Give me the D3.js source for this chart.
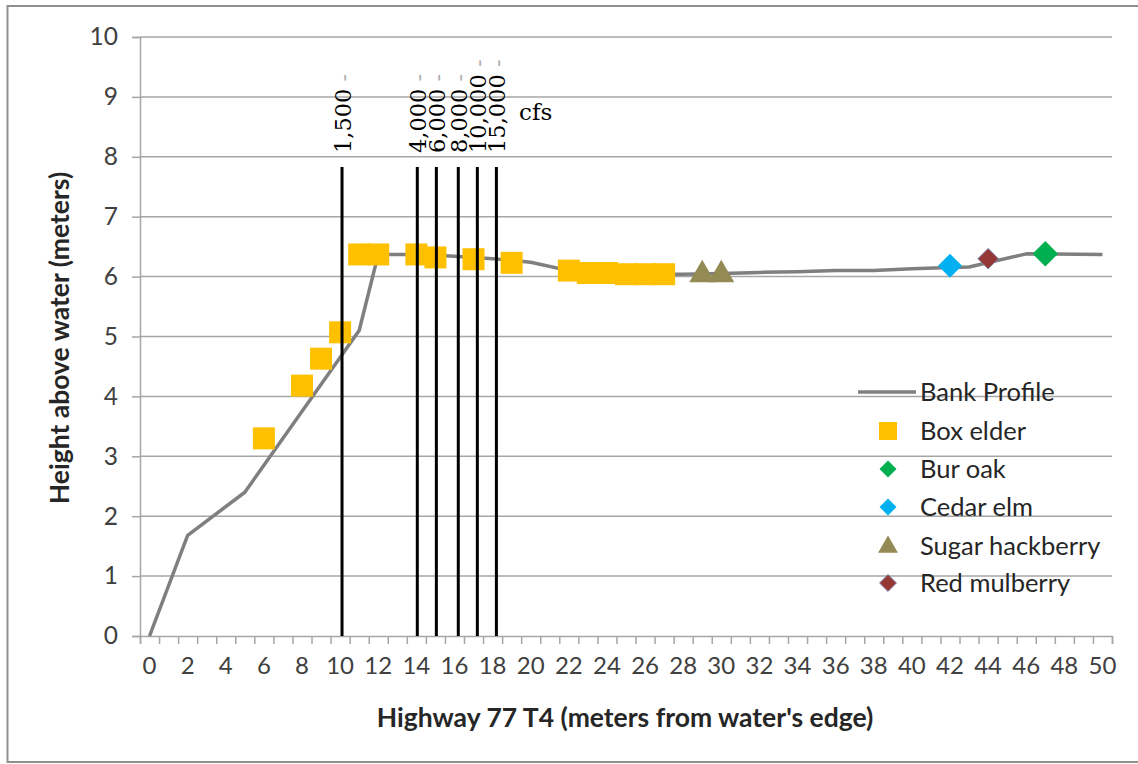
<!DOCTYPE html>
<html lang="en">
<head>
<meta charset="utf-8">
<title>Highway 77 T4 bank profile</title>
<script src="https://cdnjs.cloudflare.com/ajax/libs/d3/7.8.5/d3.min.js"></script>
<style>
  body { margin: 0; background: #fff; }
  svg { display: block; font-family: Lato, "Open Sans", sans-serif; }
</style>
</head>
<body>
<svg width="1138" height="764"></svg>
<script>
// bank profile (meters from water's edge, height above water)
var profileX = [0, 2, 5, 11, 12, 14, 16, 18, 20, 22, 24, 26, 28, 30, 32, 34, 36, 38, 40, 42, 43, 46, 50];
var profileY = [0, 1.68, 2.4, 5.1, 6.37, 6.37, 6.34, 6.3, 6.24, 6.1, 6.06, 6.04, 6.04, 6.05, 6.07, 6.08, 6.1, 6.1, 6.13, 6.15, 6.16, 6.38, 6.37];

var boxElderX = [6, 8, 9, 10, 11, 12, 14, 15, 17, 19, 22, 23, 24, 25, 26, 27];
var boxElderY = [3.3, 4.18, 4.63, 5.07, 6.37, 6.37, 6.37, 6.32, 6.29, 6.23, 6.1, 6.06, 6.06, 6.04, 6.04, 6.04];
var burOakX = [47], burOakY = [6.38];
var cedarElmX = [42], cedarElmY = [6.18];
var hackberryX = [29, 30], hackberryY = [6.03, 6.03];
var mulberryX = [44], mulberryY = [6.3];

// flow stages
var flowX = [10.1, 14.05, 15.05, 16.2, 17.2, 18.2];
var flowLabels = ["1,500", "4,000", "6,000", "8,000", "10,000", "15,000"];
var flowTop = 7.83;

var yTicks = [0, 1, 2, 3, 4, 5, 6, 7, 8, 9, 10];
var xLabels = d3.range(0, 51, 2);

var svg = d3.select("svg");

// outer frame
svg.append("path")
  .attr("d", "M1140,6H7.5V762H1140")
  .attr("fill", "none").attr("stroke", "#8f8f8f").attr("stroke-width", 2);

var x = d3.scaleLinear().domain([-0.5, 50.5]).range([140, 1112]);
var y = d3.scaleLinear().domain([0, 10]).range([636, 37]);

// grid
svg.append("g").selectAll("line")
  .data(yTicks.slice(1))
  .enter().append("line")
    .attr("x1", x(-0.5)).attr("x2", x(50.5))
    .attr("y1", d => y(d)).attr("y2", d => y(d))
    .attr("stroke", "#a6a6a6").attr("stroke-width", 1.5);

// y axis
var yAxis = svg.append("g")
  .attr("transform", "translate(" + x(-0.5) + ",0)")
  .call(d3.axisLeft(y).tickValues(yTicks).tickSize(8).tickPadding(14).tickFormat(d3.format("d")));
yAxis.select(".domain").attr("stroke", "#a6a6a6").attr("stroke-width", 1.5);
yAxis.selectAll(".tick line").attr("stroke", "#a6a6a6").attr("stroke-width", 1.5);
yAxis.selectAll("text").attr("font-size", 24.5).attr("fill", "#404040").attr("font-family", "Lato");

// x axis: one tick between each metre, labels every 2 m
var xAxis = svg.append("g")
  .attr("transform", "translate(0," + y(0) + ")")
  .call(d3.axisBottom(x).tickValues(d3.range(-0.5, 50.6, 1)).tickSize(8).tickFormat(""));
xAxis.select(".domain").attr("stroke", "#a6a6a6").attr("stroke-width", 1.5);
xAxis.selectAll(".tick line").attr("stroke", "#a6a6a6").attr("stroke-width", 1.5);
svg.append("g").selectAll("text")
  .data(xLabels)
  .enter().append("text")
    .attr("x", d => x(d)).attr("y", 674)
    .attr("text-anchor", "middle")
    .attr("font-size", 24).attr("fill", "#404040")
    .text(d => d);

// axis titles
svg.append("text")
  .attr("x", 625).attr("y", 727)
  .attr("text-anchor", "middle")
  .attr("font-size", 26.5).attr("font-weight", "bold").attr("fill", "#262626")
  .text("Highway 77 T4 (meters from water's edge)");
svg.append("text")
  .attr("transform", "translate(69,338) rotate(-90)")
  .attr("text-anchor", "middle")
  .attr("font-size", 26.5).attr("font-weight", "bold").attr("fill", "#262626")
  .text("Height above water (meters)");

// bank profile line
var line = d3.line().x(d => x(d[0])).y(d => y(d[1]));
svg.append("path")
  .datum(d3.zip(profileX, profileY))
  .attr("d", line)
  .attr("fill", "none").attr("stroke", "#7f7f7f").attr("stroke-width", 3.5)
  .attr("stroke-linejoin", "round");

// tree markers
var diamond = (s) => d3.symbol(d3.symbolSquare, s * s)();
function markers(xs, ys, pathStr, fill, stroke, rot) {
  svg.append("g").selectAll("path")
    .data(d3.zip(xs, ys))
    .enter().append("path")
      .attr("d", pathStr)
      .attr("transform", d => "translate(" + x(d[0]) + "," + y(d[1]) + ") rotate(" + rot + ")")
      .attr("fill", fill)
      .attr("stroke", stroke || "none").attr("stroke-width", 0.8);
}
markers(hackberryX, hackberryY, d3.symbol(d3.symbolTriangle, 290)(), "#948a54", null, 0);
markers(boxElderX, boxElderY, d3.symbol(d3.symbolSquare, 22 * 22)(), "#ffc000", null, 0);
markers(cedarElmX, cedarElmY, diamond(17), "#00b0f0", null, 45);
markers(mulberryX, mulberryY, diamond(14.5), "#953735", "#7a86b8", 45);
markers(burOakX, burOakY, diamond(18), "#00b050", null, 45);

// flow stage lines
svg.append("g").selectAll("line")
  .data(flowX)
  .enter().append("line")
    .attr("x1", d => x(d)).attr("x2", d => x(d))
    .attr("y1", y(0)).attr("y2", y(flowTop))
    .attr("stroke", "#000").attr("stroke-width", 3);

svg.append("g").selectAll("text")
  .data(d3.zip(flowX, flowLabels))
  .enter().append("text")
    .attr("transform", d => "translate(" + (x(d[0]) + 9) + ",153) rotate(-90)")
    .attr("font-family", "'DejaVu Serif', 'Liberation Serif', serif")
    .attr("font-size", 22.5).attr("fill", "#000")
    .text(d => d[1])
    .append("tspan").attr("fill", "#b0b0b0").text(" -");

svg.append("text")
  .attr("x", 519).attr("y", 120)
  .attr("font-family", "'DejaVu Serif', 'Liberation Serif', serif")
  .attr("font-size", 23).attr("fill", "#000")
  .text("cfs");

// legend
var legendNames = ["Bank Profile", "Box elder", "Bur oak", "Cedar elm", "Sugar hackberry", "Red mulberry"];
var legendY = [392, 431, 469, 507, 546, 583];
var lg = svg.append("g");
lg.append("line").attr("x1", 858).attr("x2", 916).attr("y1", legendY[0]).attr("y2", legendY[0])
  .attr("stroke", "#7f7f7f").attr("stroke-width", 3.5);
var lsx = 888;
lg.append("path").attr("d", d3.symbol(d3.symbolSquare, 18 * 18)())
  .attr("transform", "translate(" + lsx + "," + legendY[1] + ")").attr("fill", "#ffc000");
lg.append("path").attr("d", diamond(12))
  .attr("transform", "translate(" + lsx + "," + legendY[2] + ") rotate(45)").attr("fill", "#00b050");
lg.append("path").attr("d", diamond(12))
  .attr("transform", "translate(" + lsx + "," + legendY[3] + ") rotate(45)").attr("fill", "#00b0f0");
lg.append("path").attr("d", d3.symbol(d3.symbolTriangle, 170)())
  .attr("transform", "translate(" + lsx + "," + (legendY[4] + 1) + ")").attr("fill", "#948a54");
lg.append("path").attr("d", diamond(12))
  .attr("transform", "translate(" + lsx + "," + legendY[5] + ") rotate(45)")
  .attr("fill", "#953735").attr("stroke", "#7a86b8").attr("stroke-width", 0.8);
lg.selectAll("text")
  .data(legendNames)
  .enter().append("text")
    .attr("x", 920).attr("y", (d, i) => legendY[i] + 9)
    .attr("font-size", 25.5).attr("fill", "#262626")
    .text(d => d);
</script>
</body>
</html>
